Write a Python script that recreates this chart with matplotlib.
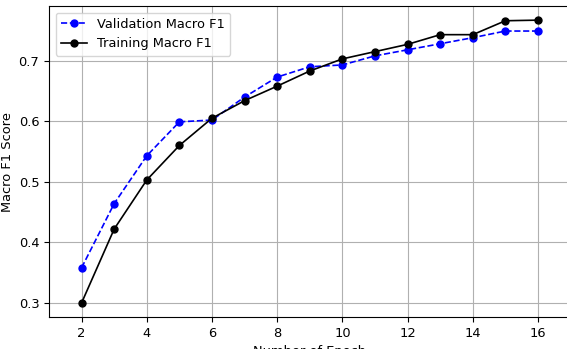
import matplotlib
matplotlib.use("Agg")
import matplotlib.pyplot as plt

epochs = list(range(2, 17))
val_f1 = [0.358, 0.464, 0.543, 0.599, 0.602, 0.640, 0.673, 0.690, 0.693, 0.708, 0.718, 0.728, 0.738, 0.749, 0.749]
train_f1 = [0.300, 0.422, 0.503, 0.560, 0.605, 0.634, 0.658, 0.683, 0.703, 0.715, 0.727, 0.743, 0.743, 0.766, 0.767]

plt.rcParams['font.size'] = 9.4

fig = plt.figure(figsize=(5.67, 3.49), dpi=100)
ax = fig.add_axes([49/567, 1 - 317/349, (570.6 - 49)/567, (317 - 6)/349])
ax.plot(epochs, val_f1, 'b--', marker='o', markersize=5, linewidth=1.2, label='Validation Macro F1')
ax.plot(epochs, train_f1, 'k-', marker='o', markersize=5, linewidth=1.2, label='Training Macro F1')
ax.set_xlim(1, 17)
ax.set_xticks([2, 4, 6, 8, 10, 12, 14, 16])
ax.set_yticks([0.3, 0.4, 0.5, 0.6, 0.7])
ax.set_xlabel('Number of Epoch', labelpad=3.5)
ax.set_ylabel('Macro F1 Score', labelpad=3.5)
ax.grid(True)
ax.legend(loc='upper left')
fig.savefig('out.png', dpi=100)
